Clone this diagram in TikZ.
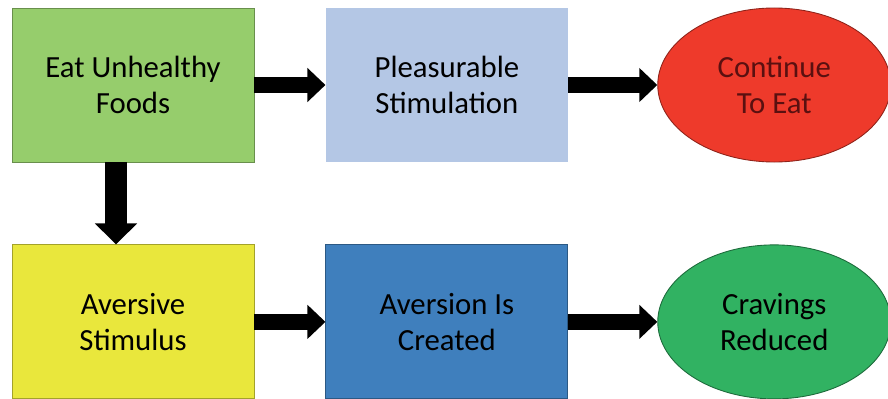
\documentclass[tikz,border=0pt]{standalone}
\usepackage{fontspec}
\setmainfont{Carlito}
\usetikzlibrary{positioning,shapes.geometric,arrows.meta}
\definecolor{eatgreen}{HTML}{96CD6C}
\definecolor{pleasblue}{HTML}{B4C7E5}
\definecolor{contred}{HTML}{EE3A2B}
\definecolor{contdark}{HTML}{5A1010}
\definecolor{avyellow}{HTML}{E9E73C}
\definecolor{avblue}{HTML}{3F7FBD}
\definecolor{cravgreen}{HTML}{31B262}
\begin{document}
\begin{tikzpicture}[every node/.style={font=\fontsize{17.5}{20.5}\selectfont, align=center},
    box/.style={rectangle, draw=#1!70!black, line width=0.5pt, fill=#1, minimum width=4.84cm, minimum height=3.08cm, inner sep=0pt},
    oval/.style={ellipse, draw=#1!60!black, line width=0.5pt, fill=#1, minimum width=4.66cm, minimum height=3.08cm, inner sep=0pt},
    fatarrow/.style={line width=0.33cm, -{Triangle[width=0.66cm, length=0.36cm]}},
    downarrow/.style={line width=0.44cm, -{Triangle[width=0.82cm, length=0.42cm]}}]
    \useasboundingbox (0,0) rectangle (17.76,7.96);
    \node[box=eatgreen] (eat) at (2.66,6.26) {Eat Unhealthy\\Foods};
    \node[box=pleasblue, draw=none, right=1.42cm of eat] (pleasure) {Pleasurable\\Stimulation};
    \node[oval=contred, text=contdark, right=1.78cm of pleasure] (cont) {Continue\\To Eat};
    \node[box=avyellow, below=1.64cm of eat] (aversive) {Aversive\\Stimulus};
    \node[box=avblue, right=1.42cm of aversive] (aversion) {Aversion Is\\Created};
    \node[oval=cravgreen, right=1.78cm of aversion] (cravings) {Cravings\\Reduced};
    % arrows
    \draw[fatarrow] (eat) -- (pleasure);
    \draw[fatarrow] (pleasure) -- (cont);
    \draw[downarrow] (eat.south -| 2.32,0) -- (aversive.north -| 2.32,0);
    \draw[fatarrow] (aversive) -- (aversion);
    \draw[fatarrow] (aversion) -- (cravings);
\end{tikzpicture}
\end{document}
